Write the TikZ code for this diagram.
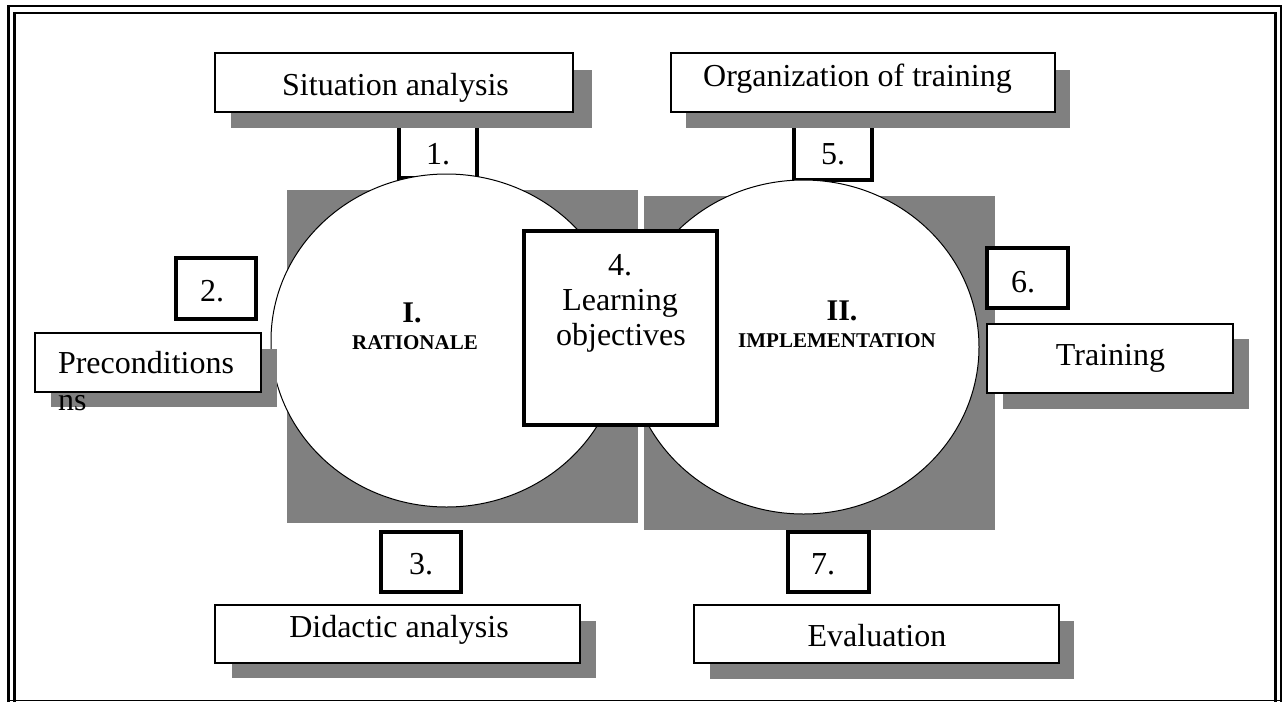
\documentclass[tikz,border=0pt]{standalone}
\usepackage{fontspec}
\setmainfont{Liberation Serif}
\usetikzlibrary{shapes.geometric,fit}
\definecolor{shadowgray}{RGB}{128,128,128}
\begin{document}
\begin{tikzpicture}[x=1pt,y=-1pt,
  shadowbox/.style={fill=shadowgray, draw=none, inner sep=0pt, outer sep=0pt},
  txtbox/.style={draw, line width=1.5pt, fill=white, inner sep=0pt},
  numbox/.style={draw, line width=4.5pt, fill=white, inner sep=0pt},
  circ/.style={ellipse, draw, line width=1pt, fill=white, inner sep=0pt},
  lbl/.style={anchor=base, inner sep=0pt, font=\fontsize{32}{36}\selectfont},
  roman/.style={anchor=base, inner sep=0pt, font=\fontsize{30}{33}\selectfont\bfseries},
  caps/.style={anchor=base, inner sep=0pt, font=\fontsize{21}{24}\selectfont\bfseries},
  frameline/.style={line width=2.5pt}
]
\useasboundingbox (0,0) rectangle (1285,702);
% frame
\coordinate (fo1) at (8.5,702); \coordinate (fo2) at (8.5,6); \coordinate (fo3) at (1281,6); \coordinate (fo4) at (1281,702);
\coordinate (fi1) at (14.5,702); \coordinate (fi2) at (14.5,13); \coordinate (fi3) at (1275.5,13); \coordinate (fi4) at (1275.5,702);
\coordinate (fb1) at (8.5,700.5); \coordinate (fb2) at (1281,700.5);
\draw[frameline] (fo1) -- (fo2) -- (fo3) -- (fo4);
\draw[frameline] (fi1) -- (fi2) -- (fi3) -- (fi4);
\draw[line width=1.5pt] (fb1) -- (fb2);

% circle shadows
\node[shadowbox, fit={(287,190) (638,523)}] (s1) {};
\node[shadowbox, fit={(644,196) (995,530)}] (s2) {};

% number boxes 1 and 5 (tops hidden under the shadows)
\node[numbox, fit={(399,118) (477,178)}] (b1) {};
\node[numbox, fit={(794,118) (872,180)}] (b5) {};

% circles
\node[circ, minimum width=351pt, minimum height=333pt] (c1) at (446.5,340.5) {};
\node[circ, minimum width=351pt, minimum height=334pt] (c2) at (803.5,347) {};

% central box
\node[numbox, line width=4pt, fit={(524,231) (717,425)}] (b4) {};

% other number boxes
\node[numbox, fit={(176,258) (256,319)}] (b2) {};
\node[numbox, fit={(987,248) (1068,308)}] (b6) {};
\node[numbox, fit={(381,532) (461,592)}] (b3) {};
\node[numbox, fit={(788,532) (869,592)}] (b7) {};

% text boxes with shadows
\node[shadowbox, fit={(231,70) (592,128)}] (sitsh) {};
\node[txtbox, fit={(215,53) (573,112)}] (sit) {};
\node[shadowbox, fit={(686,70) (1070,128)}] (orgsh) {};
\node[txtbox, fit={(671,53) (1055,112)}] (org) {};
\node[shadowbox, fit={(51,349) (277,407)}] (presh) {};
\node[txtbox, fit={(35,333) (261,392)}] (pre) {};
\node[shadowbox, fit={(1003,339) (1249,409)}] (trnsh) {};
\node[txtbox, fit={(987,324) (1233,393)}] (trn) {};
\node[shadowbox, fit={(232,621) (596,678)}] (didsh) {};
\node[txtbox, fit={(215,605) (580,663)}] (did) {};
\node[shadowbox, fit={(710,621) (1074,679)}] (evash) {};
\node[txtbox, fit={(694,605) (1059,663)}] (eva) {};

% texts
\node[lbl] (tsit) at (395.5,95) {Situation analysis};
\node[lbl] (torg) at (857.5,86) {Organization of training};
\node[lbl] (t1) at (438,164) {1.};
\node[lbl] (t5) at (833,164) {5.};
\node[lbl] (t2) at (212,301) {2.};
\node[lbl] (t6) at (1023,292) {6.};
\node[lbl] (tpre) at (146,373) {Preconditions};
\node[lbl, anchor=base west] (tns) at (58,410) {ns};
\node[lbl] (ttrn) at (1110.5,365) {Training};
\node[lbl] (t3) at (421,574) {3.};
\node[lbl] (t7) at (823,574) {7.};
\node[lbl] (tdid) at (399,637) {Didactic analysis};
\node[lbl] (teva) at (877,646) {Evaluation};
\node[lbl] (t4a) at (620,275) {4.};
\node[lbl] (t4b) at (620,310) {Learning};
\node[lbl] (t4c) at (621,345) {objectives};
\node[roman] (tI) at (412,322) {I.};
\node[caps] (tIr) at (415,349) {RATIONALE};
\node[roman] (tII) at (842,320) {II.};
\node[caps] (tIIi) at (837,347) {IMPLEMENTATION};
\end{tikzpicture}
\end{document}
